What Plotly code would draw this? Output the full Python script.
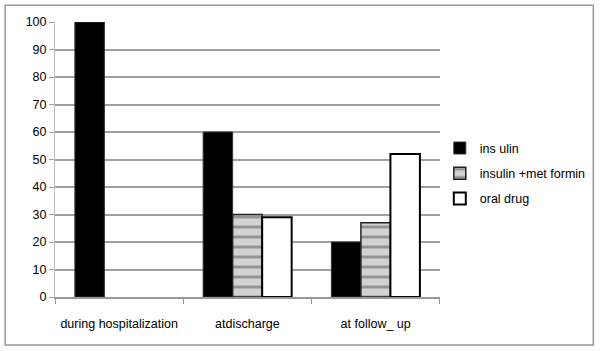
import plotly.graph_objects as go

categories = ["during hospitalization", "atdischarge", "at follow_ up"]
insulin = [100, 60, 20]
insulin_met = [0, 30, 27]
oral_drug = [0, 29, 52]
series_names = ["ins ulin", "insulin +met formin", "oral drug"]
y_ticks = [0, 10, 20, 30, 40, 50, 60, 70, 80, 90, 100]


def nz(vals):
    # zero-height bars are not drawn in the reference
    return [v if v > 0 else None for v in vals]


fig = go.Figure()
fig.add_trace(go.Bar(
    x=categories, y=nz(insulin), name=series_names[0], legendgroup="a",
    marker=dict(color="#000000", line=dict(color="#333333", width=1)),
))
fig.add_trace(go.Bar(
    x=categories, y=nz(insulin_met), name=series_names[1], legendgroup="b",
    marker=dict(color="#c8c8c8", line=dict(color="#222222", width=1.5),
                pattern=dict(shape="-", fgcolor="#555555", bgcolor="#d2d2d2",
                             size=10, solidity=0.3, fillmode="overlay")),
))
fig.add_trace(go.Bar(
    x=categories, y=nz(oral_drug), name=series_names[2], legendgroup="c",
    marker=dict(color="#ffffff", line=dict(color="#000000", width=2)),
))

fig.update_layout(
    width=600, height=351,
    margin=dict(l=55, r=159, t=22, b=54),
    paper_bgcolor="white", plot_bgcolor="white",
    barmode="group", bargap=0.31, bargroupgap=0,
    font=dict(family="Liberation Sans, Arial", size=12.5, color="#000000"),
    showlegend=True,
    legend=dict(xref="container", yref="container", x=0.733, y=0.62,
                xanchor="left", yanchor="top",
                font=dict(size=12.5), tracegroupgap=6, itemwidth=30,
                bgcolor="rgba(0,0,0,0)"),
    xaxis=dict(
        showline=True, linecolor="#999999", linewidth=2,
        ticks="outside", tickson="boundaries", ticklen=5, tickcolor="#999999",
        tickwidth=1, ticklabelstandoff=14, tickangle=0, automargin=False,
    ),
    yaxis=dict(
        range=[0, 100], tickvals=y_ticks, showgrid=True,
        gridcolor="#a0a0a0", gridwidth=2,
        showline=True, linecolor="#bbbbbb", linewidth=1,
        ticks="outside", ticklen=5, tickcolor="#a0a0a0",
        zeroline=False, automargin=False,
    ),
    shapes=[dict(type="rect", xref="paper", yref="paper",
                 x0=(5 - 55) / 386, x1=(595 - 55) / 386,
                 y0=(297 - 345) / 275.3, y1=(297 - 5) / 275.3,
                 line=dict(color="#999999", width=1.5), fillcolor="rgba(0,0,0,0)",
                 layer="below")],
)

fig.write_html("out.html", config={"displayModeBar": False},
               post_script="document.body.style.margin='0';")
